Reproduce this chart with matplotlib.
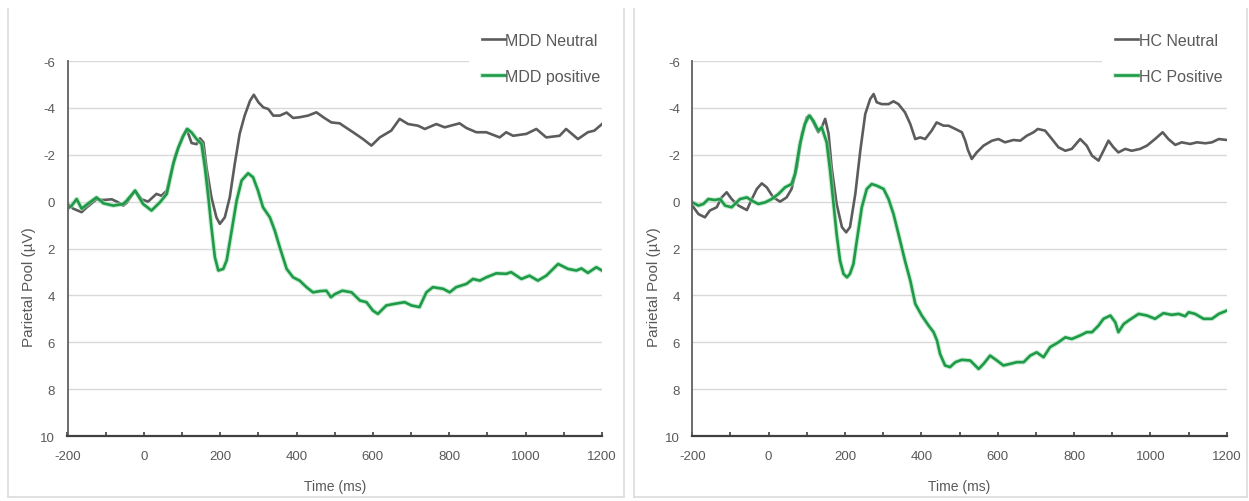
import matplotlib
matplotlib.use("Agg")
import matplotlib.pyplot as plt
from matplotlib.lines import Line2D
import matplotlib.patheffects as pe

plt.rcParams['font.family'] = ['Liberation Sans', 'DejaVu Sans']
plt.rcParams['axes.unicode_minus'] = False

# ---- MDD group: parietal pool ERP (µV) over time (ms) ----
mdd_neutral_t = [-200, -185, -163, -150, -124, -106, -84, -67, -54, -45, -23, -6, 11, 33, 46, 60,
                 81, 103, 112, 125, 138, 147, 156, 164, 177, 190, 199, 212, 225, 238, 251, 264,
                 278, 288, 300, 313, 326, 339, 356, 374, 391, 408, 430, 452, 470, 491, 513, 522,
                 548, 574, 596, 618, 648, 670, 692, 718, 736, 766, 788, 806, 827, 845, 871, 897,
                 932, 949, 967, 1002, 1028, 1054, 1089, 1106, 1137, 1163, 1180, 1200]
mdd_neutral_v = [0.1, 0.3, 0.45, 0.25, -0.1, -0.07, -0.1, 0.03, 0.17, 0.05, -0.47, -0.1, 0.0, -0.33, -0.25, -0.47,
                 -1.9, -2.8, -3.1, -2.5, -2.45, -2.7, -2.53, -1.46, -0.18, 0.67, 0.95, 0.67, -0.18, -1.6, -2.9, -3.67,
                 -4.3, -4.56, -4.24, -4.02, -3.95, -3.67, -3.67, -3.8, -3.57, -3.6, -3.67, -3.81, -3.6, -3.38, -3.34, -3.24,
                 -2.96, -2.67, -2.39, -2.74, -3.03, -3.53, -3.31, -3.24, -3.1, -3.31, -3.17, -3.25, -3.34, -3.14, -2.96, -2.96,
                 -2.74, -2.96, -2.81, -2.89, -3.1, -2.74, -2.81, -3.1, -2.67, -2.96, -3.03, -3.31]

mdd_positive_t = [-200, -189, -176, -163, -145, -124, -106, -80, -54, -45, -23, -2, 20, 42, 60, 77,
                  90, 103, 114, 125, 138, 151, 160, 169, 177, 186, 195, 208, 217, 230, 243, 256,
                  273, 286, 299, 312, 330, 343, 356, 374, 391, 408, 426, 443, 461, 478, 490, 500,
                  520, 544, 566, 583, 600, 613, 635, 657, 683, 701, 722, 740, 757, 784, 801, 818,
                  845, 862, 880, 897, 923, 949, 962, 989, 1010, 1032, 1054, 1085, 1111, 1133, 1146, 1163,
                  1185, 1200]
mdd_positive_v = [0.3, 0.17, -0.11, 0.3, 0.07, -0.18, 0.07, 0.17, 0.1, -0.04, -0.47, 0.1, 0.38, 0.03, -0.33, -1.6,
                  -2.3, -2.8, -3.1, -2.95, -2.67, -2.46, -1.46, -0.18, 1.09, 2.37, 2.94, 2.87, 2.5, 1.24, -0.04, -0.9,
                  -1.21, -1.04, -0.47, 0.24, 0.67, 1.24, 1.95, 2.87, 3.23, 3.37, 3.65, 3.87, 3.82, 3.8, 4.08, 3.95,
                  3.8, 3.87, 4.22, 4.29, 4.65, 4.79, 4.43, 4.36, 4.29, 4.43, 4.5, 3.87, 3.65, 3.72, 3.87, 3.65,
                  3.51, 3.3, 3.37, 3.23, 3.06, 3.08, 3.01, 3.3, 3.16, 3.37, 3.16, 2.66, 2.87, 2.94, 2.85, 3.04,
                  2.8, 2.94]

# ---- HC group ----
hc_neutral_t = [-200, -184, -167, -154, -136, -123, -110, -97, -79, -57, -44, -31, -18, -5, 12, 30,
                47, 60, 74, 87, 100, 109, 117, 130, 139, 148, 157, 165, 178, 192, 203, 213,
                227, 240, 253, 266, 275, 283, 296, 314, 327, 340, 357, 371, 384, 397, 410, 427,
                440, 458, 471, 489, 506, 515, 522, 532, 545, 563, 585, 602, 619, 641, 659, 676,
                694, 705, 724, 742, 759, 777, 794, 816, 833, 847, 864, 877, 890, 903, 916, 934,
                951, 973, 991, 1012, 1032, 1047, 1065, 1082, 1104, 1122, 1144, 1161, 1179, 1200]
hc_neutral_v = [0.17, 0.53, 0.67, 0.38, 0.24, -0.18, -0.4, -0.11, 0.17, 0.36, -0.11, -0.54, -0.78, -0.61, -0.18, 0.0,
                -0.18, -0.54, -1.46, -2.89, -3.6, -3.67, -3.38, -2.96, -3.17, -3.53, -2.89, -1.46, 0.1, 1.09, 1.31, 1.09,
                -0.33, -2.17, -3.74, -4.38, -4.59, -4.24, -4.16, -4.16, -4.28, -4.16, -3.81, -3.31, -2.67, -2.74, -2.67, -3.03,
                -3.38, -3.24, -3.24, -3.1, -2.96, -2.6, -2.2, -1.82, -2.1, -2.39, -2.6, -2.67, -2.53, -2.63, -2.6, -2.81,
                -2.96, -3.1, -3.03, -2.67, -2.32, -2.17, -2.25, -2.67, -2.39, -1.96, -1.75, -2.17, -2.6, -2.32, -2.1, -2.25,
                -2.17, -2.25, -2.39, -2.67, -2.96, -2.67, -2.42, -2.53, -2.46, -2.53, -2.49, -2.53, -2.67, -2.63]

hc_positive_t = [-200, -184, -171, -158, -141, -127, -114, -97, -75, -57, -44, -27, -9, 8, 26, 43,
                 60, 69, 82, 95, 106, 117, 130, 139, 152, 161, 170, 178, 187, 196, 205, 213,
                 222, 231, 244, 257, 270, 283, 301, 314, 327, 340, 357, 371, 384, 401, 419, 432,
                 441, 449, 462, 475, 489, 506, 528, 550, 563, 580, 598, 615, 633, 650, 668, 685,
                 702, 720, 737, 759, 777, 794, 816, 833, 847, 864, 877, 895, 908, 916, 930, 943,
                 956, 969, 991, 1012, 1034, 1056, 1074, 1091, 1100, 1117, 1139, 1161, 1179, 1200]
hc_positive_v = [0.03, 0.17, 0.1, -0.11, -0.07, -0.11, 0.17, 0.24, -0.11, -0.18, -0.04, 0.1, 0.03, -0.11, -0.33, -0.61,
                 -0.75, -1.18, -2.46, -3.31, -3.67, -3.45, -3.03, -3.17, -2.53, -1.32, 0.1, 1.38, 2.52, 3.08, 3.23, 3.08,
                 2.66, 1.66, 0.24, -0.54, -0.75, -0.68, -0.54, -0.11, 0.53, 1.38, 2.52, 3.37, 4.36, 4.86, 5.29, 5.57,
                 5.93, 6.5, 6.99, 7.06, 6.85, 6.75, 6.78, 7.14, 6.92, 6.57, 6.78, 6.99, 6.92, 6.85, 6.85, 6.57,
                 6.43, 6.64, 6.21, 6.0, 5.79, 5.86, 5.71, 5.57, 5.57, 5.29, 5.0, 4.86, 5.15, 5.57, 5.22, 5.07,
                 4.93, 4.79, 4.86, 5.0, 4.76, 4.83, 4.79, 4.89, 4.72, 4.79, 5.0, 5.0, 4.79, 4.65]

x_ticks = list(range(-200, 1201, 100))
x_labels = [str(t) if t % 200 == 0 else "" for t in x_ticks]
y_ticks = [-6, -4, -2, 0, 2, 4, 6, 8, 10]

GRAY = '#5c5c5c'
GREEN = '#1e9a48'
TXT = '#595959'

W, H = 1249, 502
fig = plt.figure(figsize=(W / 100, H / 100), dpi=100)
fig.patch.set_facecolor('white')

# light panel borders
border = '#dcdcdc'
for x0, x1 in [(8, 624), (634, 1247)]:
    fig.add_artist(Line2D([x0 / W, x0 / W], [4 / H, 492 / H], color=border, lw=1.2))
    fig.add_artist(Line2D([x1 / W, x1 / W], [4 / H, 492 / H], color=border, lw=1.2))
    fig.add_artist(Line2D([x0 / W, x1 / W], [4 / H, 4 / H], color=border, lw=1.2))

panels = [
    (67.5, 546, (mdd_neutral_t, mdd_neutral_v, "MDD Neutral"),
     (mdd_positive_t, mdd_positive_v, "MDD positive")),
    (692.3, 543, (hc_neutral_t, hc_neutral_v, "HC Neutral"),
     (hc_positive_t, hc_positive_v, "HC Positive")),
]

for left_px, leg_dx, neu, pos in panels:
    ax = fig.add_axes([left_px / W, (H - 437) / H, 534.5 / W, 375 / H])
    ax.set_xlim(-200, 1200)
    ax.set_ylim(10, -6)
    ax.set_yticks(y_ticks)
    ax.set_yticklabels([str(v) for v in y_ticks])
    ax.set_xticks(x_ticks)
    ax.set_xticklabels(x_labels)
    ax.grid(axis='y', color='#d9d9d9', lw=1.0)
    ax.set_axisbelow(True)
    for s in ['top', 'right']:
        ax.spines[s].set_visible(False)
    ax.spines['left'].set_color('#606060')
    ax.spines['left'].set_linewidth(1.3)
    ax.spines['bottom'].set_color('#404040')
    ax.spines['bottom'].set_linewidth(1.6)
    ax.tick_params(axis='y', length=0, pad=9, labelsize=9.5, labelcolor=TXT)
    ax.tick_params(axis='x', direction='in', length=3, width=1.2, color='#404040',
                   pad=10, labelsize=9.5, labelcolor=TXT)

    ax.plot(neu[0], neu[1], color=GRAY, lw=1.9, label=neu[2], solid_joinstyle='round')
    ax.plot(pos[0], pos[1], color=GREEN, lw=1.9, label=pos[2], solid_joinstyle='round',
            path_effects=[pe.Stroke(linewidth=3.4, foreground='#9fe0b0', alpha=0.6), pe.Normal()])

    ax.set_xlabel("Time (ms)", fontsize=10, color=TXT, labelpad=12)
    ax.set_ylabel("Parietal Pool (µV)", fontsize=11, color=TXT)
    ax.yaxis.set_label_coords(-0.059, 0.40)

    leg = ax.legend(loc='upper right', bbox_to_anchor=((left_px + leg_dx) / W, 1 - 21 / H),
                    bbox_transform=fig.transFigure, frameon=True, fontsize=11.5,
                    handlelength=1.45, handletextpad=0.05, labelspacing=1.33,
                    borderpad=0.8, borderaxespad=0.0)
    leg.get_frame().set_facecolor('white')
    leg.get_frame().set_edgecolor('none')
    leg.get_frame().set_alpha(1.0)
    for t in leg.get_texts():
        t.set_color(TXT)

fig.savefig("out.png", dpi=100, facecolor='white')
